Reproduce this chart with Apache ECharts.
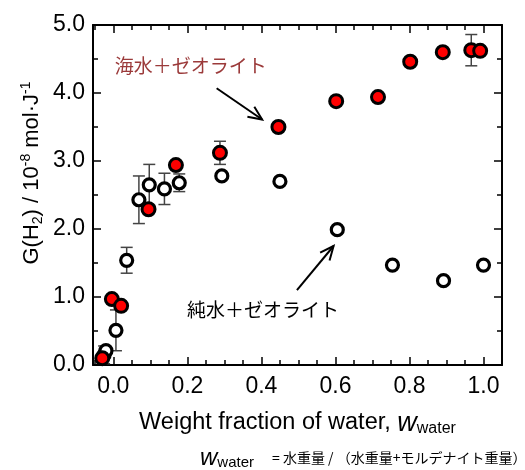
<!DOCTYPE html>
<html><head><meta charset="utf-8">
<script src="https://cdn.jsdelivr.net/npm/echarts@6/dist/echarts.min.js"></script>
<style>html,body{margin:0;padding:0;background:#fff}#c{width:525px;height:470px}</style>
</head><body><div id="c"></div>
<script>
// ---- data ----
const seaX   = [-0.030, -0.004, 0.021, 0.095, 0.169, 0.288, 0.446, 0.602, 0.715, 0.802, 0.890, 0.967, 0.991];
const seaY   = [ 0.10,   0.97,  0.87,  2.29,  2.94,  3.12,  3.50,  3.88,  3.94,  4.46,  4.60,  4.63,  4.62];
const seaErr = [ 0,      0,     0,     0,     0,     0.17,  0,     0,     0,     0,     0,     0.23,  0   ];

const pureX   = [-0.025, -0.020, 0.007, 0.036, 0.069, 0.097, 0.138, 0.178, 0.293, 0.450, 0.605, 0.754, 0.892, 1.000];
const pureY   = [ 0.15,   0.21,  0.51,  1.54,  2.43,  2.65,  2.59,  2.68,  2.78,  2.70,  1.99,  1.47,  1.24,  1.47];
const pureErr = [ 0.13,   0,     0.30,  0.19,  0.35,  0.30,  0.23,  0.13,  0,     0,     0,     0,     0,     0   ];

const xMajor = [0, 0.2, 0.4, 0.6, 0.8, 1.0];
const xMinor = [-0.05, 0.05, 0.10, 0.15, 0.25, 0.30, 0.35, 0.45, 0.50, 0.55, 0.65, 0.70, 0.75, 0.85, 0.90, 0.95, 1.05];

const seaLabel  = '海水＋ゼオライト';
const pureLabel = '純水＋ゼオライト';

const FONT = '"Liberation Sans", Arial, sans-serif';
const CJK = '"Noto Sans CJK JP", sans-serif';

const seaData = seaX.map((x, i) => [x, seaY[i]]);
const pureData = pureX.map((x, i) => [x, pureY[i]]);
const errData = [];
pureX.forEach((x, i) => { if (pureErr[i] > 0) errData.push([x, pureY[i], pureErr[i]]); });
seaX.forEach((x, i) => { if (seaErr[i] > 0) errData.push([x, seaY[i], seaErr[i]]); });

const chart = echarts.init(document.getElementById('c'), null, {renderer: 'canvas'});

function xAxisDef(pos, values, len, labels, line) {
  return {
    type: 'value', position: pos, min: -0.055, max: 1.05,
    axisLine: {show: line, onZero: false, lineStyle: {color: '#000', width: 2}},
    axisTick: {show: true, inside: true, length: len, customValues: values, lineStyle: {color: '#000', width: 1.5}},
    axisLabel: {show: labels, customValues: values, margin: 10, color: '#000', fontSize: 23, fontFamily: FONT,
      formatter: v => v.toFixed(1)},
    splitLine: {show: false}
  };
}
function yAxisDef(pos, labels) {
  return {type: 'value', position: pos, min: 0, max: 5, interval: 1,
    axisLine: {show: true, onZero: false, lineStyle: {color: '#000', width: 2}},
    axisTick: {inside: true, length: 8, lineStyle: {color: '#000', width: 1.5}},
    minorTick: {show: true, splitNumber: 2, length: 5, lineStyle: {color: '#000', width: 1.5}},
    axisLabel: {show: labels, margin: 8, color: '#000', fontSize: 23, fontFamily: FONT, formatter: v => v.toFixed(1)},
    splitLine: {show: false}};
}

const option = {
  animation: false,
  grid: {left: 93, right: 23, top: 25, bottom: 105},
  xAxis: [
    Object.assign(xAxisDef('bottom', xMajor, 8, true, true), {
      name: '{n|Weight fraction of water, }{w|w}{s|water}',
      nameLocation: 'middle', nameGap: 44,
      nameTextStyle: {rich: {
        n: {fontSize: 23.5, fontFamily: FONT, color: '#000', lineHeight: 28},
        w: {fontSize: 27, fontFamily: FONT, fontStyle: 'italic', color: '#000', lineHeight: 28},
        s: {fontSize: 16, fontFamily: FONT, color: '#000', lineHeight: 28, padding: [12, 0, 0, 0]}
      }}
    }),
    xAxisDef('bottom', xMinor, 5, false, false),
    xAxisDef('top', xMajor, 8, false, true),
    xAxisDef('top', xMinor, 5, false, false)
  ],
  yAxis: [yAxisDef('left', true), yAxisDef('right', false)],
  series: [
    {type: 'custom', name: 'err', data: errData, encode: {x: 0, y: 1}, z: 1,
      renderItem: function (params, api) {
        const x = api.value(0), y = api.value(1), e = api.value(2);
        const t = api.coord([x, y + e]), b = api.coord([x, y - e]);
        const st = {stroke: '#444', lineWidth: 1.5, fill: null};
        return {type: 'group', children: [
          {type: 'line', shape: {x1: t[0], y1: t[1], x2: b[0], y2: b[1]}, style: st},
          {type: 'line', shape: {x1: t[0] - 6, y1: t[1], x2: t[0] + 6, y2: t[1]}, style: st},
          {type: 'line', shape: {x1: b[0] - 6, y1: b[1], x2: b[0] + 6, y2: b[1]}, style: st}
        ]};
      }},
    {type: 'scatter', name: pureLabel, data: pureData, symbol: 'circle', symbolSize: 12, z: 2,
      itemStyle: {color: '#fff', borderColor: '#000', borderWidth: 3.2, opacity: 1}},
    {type: 'scatter', name: seaLabel, data: seaData, symbol: 'circle', symbolSize: 13, z: 3,
      itemStyle: {color: '#ff0000', borderColor: '#000', borderWidth: 3, opacity: 1}}
  ]
};
chart.setOption(option);

// annotations placed in data coordinates
function px(p) { return chart.convertToPixel({xAxisIndex: 0, yAxisIndex: 0}, p); }
function arrow(from, to) {
  const a = px(from), b = px(to);
  const ang = Math.atan2(b[1] - a[1], b[0] - a[0]);
  const L = 15, w = 0.42;
  const p1 = [b[0] - L * Math.cos(ang - w), b[1] - L * Math.sin(ang - w)];
  const p2 = [b[0] - L * Math.cos(ang + w), b[1] - L * Math.sin(ang + w)];
  const st = {stroke: '#000', lineWidth: 2, fill: null};
  return [
    {type: 'line', shape: {x1: a[0], y1: a[1], x2: b[0], y2: b[1]}, style: st, z: 10},
    {type: 'polyline', shape: {points: [p1, b, p2]}, style: st, z: 10}
  ];
}
const seaTxt = px([0.004, 4.40]);
const pureTxt = px([0.199, 0.81]);
const gfx = [].concat(
  arrow([0.279, 4.07], [0.402, 3.61]),
  arrow([0.496, 1.10], [0.595, 1.75]),
  [
    {type: 'text', x: seaTxt[0], y: seaTxt[1], z: 10,
      style: {text: seaLabel, fill: '#9b3a3a', font: '19px ' + CJK, textVerticalAlign: 'middle'}},
    {type: 'text', x: pureTxt[0], y: pureTxt[1], z: 10,
      style: {text: pureLabel, fill: '#000', font: '19px ' + CJK, textVerticalAlign: 'middle'}},
    {type: 'text', x: 32, y: 173, rotation: Math.PI / 2, z: 10,
      style: {text: '{n|G(H}{s|2}{n|) / 10}{p|-8}{n| mol·J}{p|-1}', align: 'center', verticalAlign: 'middle',
        rich: {
          n: {fontSize: 22, fontFamily: FONT, fill: '#000', lineHeight: 28},
          s: {fontSize: 14, fontFamily: FONT, fill: '#000', lineHeight: 28, padding: [12, 0, 0, 0]},
          p: {fontSize: 14, fontFamily: FONT, fill: '#000', lineHeight: 28, padding: [0, 0, 12, 0]}
        }}},
    {type: 'text', x: 200, y: 458, z: 10,
      style: {text: '{w|w}{s|water}{t|= 水重量 / （水重量+モルデナイト重量）}', verticalAlign: 'middle',
        rich: {
          w: {fontSize: 24, fontFamily: FONT, fontStyle: 'italic', fill: '#000', lineHeight: 24},
          s: {fontSize: 15, fontFamily: FONT, fill: '#000', lineHeight: 24, padding: [10, 0, 0, 0]},
          t: {fontSize: 14, fontFamily: CJK, fill: '#000', lineHeight: 24, padding: [0, 0, 0, 18]}
        }}}
  ]
);
chart.setOption({graphic: {elements: gfx}});
</script>
</body></html>
